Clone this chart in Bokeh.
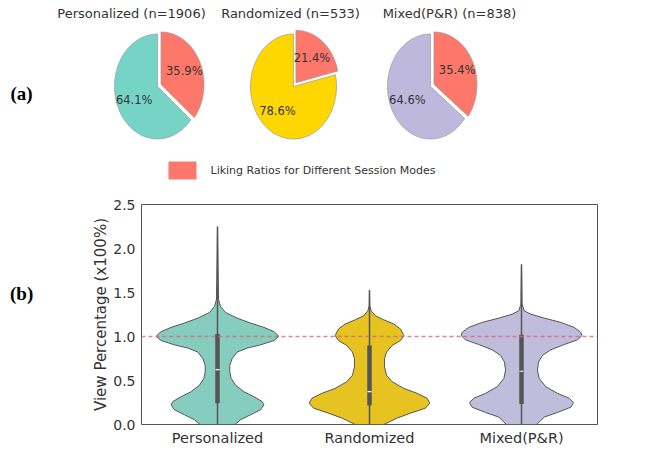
import numpy as np
from bokeh.plotting import figure
from bokeh.models import Range1d, FixedTicker, Span
from bokeh.layouts import column, row
from bokeh.embed import file_html
from bokeh.resources import INLINE
from bokeh.core.properties import value

# ---------------- data ----------------
modes = ["Personalized", "Randomized", "Mixed(P&R)"]
session_n = [1906, 533, 838]
liked_pct = [35.9, 21.4, 35.4]
other_pct = [64.1, 78.6, 64.6]
legend_text = "Liking Ratios for Different Session Modes"

# violin outlines: value level and half width (category units)
pers_y = [2.248, 1.423, 1.341, 1.273, 1.209, 1.153, 1.104, 1.055, 1.003, 0.954, 0.905, 0.868,
          0.823, 0.748, 0.673, 0.598, 0.523, 0.448, 0.373, 0.317, 0.261, 0.223, 0.167, 0.11, 0.054, 0.0]
pers_w = [0.0, 0.0066, 0.0197, 0.0526, 0.129, 0.217, 0.305, 0.371, 0.404, 0.371, 0.283, 0.195,
          0.129, 0.096, 0.081, 0.081, 0.09, 0.118, 0.173, 0.239, 0.294, 0.305, 0.283, 0.217, 0.151, 0.115]
rand_y = [1.528, 1.348, 1.292, 1.235, 1.19, 1.142, 1.085, 1.01, 0.954, 0.898, 0.823, 0.748,
          0.654, 0.56, 0.486, 0.41, 0.354, 0.298, 0.242, 0.186, 0.129, 0.073, 0.0]
rand_w = [0.0, 0.002, 0.011, 0.039, 0.094, 0.16, 0.204, 0.226, 0.204, 0.149, 0.112, 0.099,
          0.099, 0.112, 0.149, 0.226, 0.314, 0.379, 0.397, 0.368, 0.27, 0.182, 0.094]
mix_y = [1.817, 1.367, 1.292, 1.254, 1.209, 1.16, 1.104, 1.048, 1.01, 0.962, 0.909, 0.849,
         0.785, 0.711, 0.617, 0.523, 0.429, 0.354, 0.298, 0.249, 0.197, 0.137, 0.084, 0.0]
mix_w = [0.0, 0.004, 0.018, 0.061, 0.149, 0.259, 0.346, 0.39, 0.397, 0.368, 0.281, 0.193,
         0.138, 0.112, 0.105, 0.116, 0.16, 0.237, 0.314, 0.342, 0.325, 0.237, 0.149, 0.10]

q1 = [0.242, 0.216, 0.234]
q3 = [1.029, 0.898, 1.021]
median = [0.624, 0.373, 0.605]
whisk_lo = [0.0, 0.0, 0.0]
whisk_hi = [2.248, 1.528, 1.817]
ref_line = 1.0

y_ticks = [0.0, 0.5, 1.0, 1.5, 2.0, 2.5]
y_tick_labels = ["0.0", "0.5", "1.0", "1.5", "2.0", "2.5"]

# ---------------- styles ----------------
pie_colors = ["#76d4c6", "#ffd700", "#bdb8dc"]
liked_color = "#fe776b"
violin_colors = ["#86cdc0", "#e6c320", "#c0bcdc"]
FONT = value("DejaVu Sans")
TXT = "#333333"
W, H_TOP, H_BOT = 646, 190, 258

# ---------------- top panel (a) ----------------
top = figure(width=W, height=H_TOP, x_range=Range1d(0, W), y_range=Range1d(H_TOP, 0),
             x_axis_type=None, y_axis_type=None, output_backend="svg",
             toolbar_location=None, min_border=0)
top.grid.visible = False
top.outline_line_color = None

pie_cx = [157, 293, 430]
pie_cy = 86
rx, ry = 43, 52.5
explode = 0.09
pct_dist = 0.6


def sector(cx, cy, t0, t1, ox, oy):
    th = np.radians(np.linspace(t0, t1, 120))
    xs = np.concatenate([[cx + ox], cx + ox + rx * np.cos(th)])
    ys = np.concatenate([[cy + oy], cy + oy - ry * np.sin(th)])
    return xs, ys


pxs, pys, pcols = [], [], []
lx, ly, lt = [], [], []
for i in range(3):
    cx = pie_cx[i]
    t_split = 90 - liked_pct[i] * 3.6
    # liked slice (exploded)
    tm = np.radians((90 + t_split) / 2)
    ox, oy = explode * rx * np.cos(tm), -explode * ry * np.sin(tm)
    xs, ys = sector(cx, pie_cy, 90, t_split, ox, oy)
    pxs.append(xs); pys.append(ys); pcols.append(liked_color)
    lx.append(cx + (pct_dist + explode) * rx * np.cos(tm))
    ly.append(pie_cy - (pct_dist + explode) * ry * np.sin(tm))
    lt.append(f"{liked_pct[i]:.1f}%")
    # other slice
    tm2 = np.radians((t_split - 270) / 2)
    xs, ys = sector(cx, pie_cy, t_split, -270, 0, 0)
    pxs.append(xs); pys.append(ys); pcols.append(pie_colors[i])
    lx.append(cx + pct_dist * rx * np.cos(tm2))
    ly.append(pie_cy - pct_dist * ry * np.sin(tm2))
    lt.append(f"{other_pct[i]:.1f}%")

top.patches(xs=pxs, ys=pys, fill_color=pcols, line_color="#9a9a9a", line_width=0.7)
top.text(x=lx, y=ly, text=lt, text_align="center", text_baseline="middle",
         text_font=FONT, text_font_size="11.5px", text_color=TXT)

title_x = [131, 290, 449]
top.text(x=title_x, y=[13] * 3, text=[f"{m} (n={n})" for m, n in zip(modes, session_n)],
         text_align="center", text_baseline="middle", text_font=FONT,
         text_font_size="13px", text_color=TXT)

# legend
top.rect(x=[182], y=[170], width=28, height=18, fill_color=liked_color, line_color=None)
top.text(x=[210], y=[170], text=[legend_text], text_align="left", text_baseline="middle",
         text_font=FONT, text_font_size="11px", text_color=TXT)

top.text(x=[10], y=[93], text=["(a)"], text_align="left", text_baseline="middle",
         text_font=value("Liberation Serif"), text_font_style="bold",
         text_font_size="19px", text_color="black")

# ---------------- bottom panel (b) ----------------
LAB_W = 58
lab = figure(width=LAB_W, height=H_BOT, x_range=Range1d(0, LAB_W),
             y_range=Range1d(H_TOP + H_BOT, H_TOP),
             x_axis_type=None, y_axis_type=None, output_backend="svg",
             toolbar_location=None, min_border=0)
lab.grid.visible = False
lab.outline_line_color = None
lab.text(x=[9.5], y=[294], text=["(b)"], text_align="left", text_baseline="middle",
         text_font=value("Liberation Serif"), text_font_style="bold",
         text_font_size="19px", text_color="black")

vp = figure(width=W - LAB_W, height=H_BOT, x_range=Range1d(-0.5, 2.5), y_range=Range1d(0, 2.5),
            output_backend="svg", toolbar_location=None,
            min_border_left=141 - LAB_W, min_border_right=W - 597,
            min_border_top=204 - H_TOP, min_border_bottom=H_TOP + H_BOT - 426)
vp.grid.visible = False
vp.outline_line_color = "#555555"
vp.outline_line_width = 1

profiles = [(pers_y, pers_w), (rand_y, rand_w), (mix_y, mix_w)]
vxs, vys = [], []
for i, (yy, ww) in enumerate(profiles):
    yy = np.array(yy); ww = np.array(ww)
    vxs.append(np.concatenate([i + ww, (i - ww)[::-1]]))
    vys.append(np.concatenate([yy, yy[::-1]]))
vp.patches(xs=vxs, ys=vys, fill_color=violin_colors, line_color="#555555", line_width=1)

pos = [0, 1, 2]
vp.segment(x0=pos, y0=whisk_lo, x1=pos, y1=whisk_hi, line_color="#555555", line_width=1.5)
vp.segment(x0=pos, y0=q1, x1=pos, y1=q3, line_color="#555555", line_width=4.5, line_cap="butt")
vp.segment(x0=[p - 0.013 for p in pos], y0=median, x1=[p + 0.013 for p in pos], y1=median,
           line_color="white", line_width=1.2)

vp.add_layout(Span(location=ref_line, dimension="width", line_color="#dd6472",
                   line_alpha=0.8, line_dash="4 3", line_width=1.3))

vp.xaxis.ticker = FixedTicker(ticks=pos)
vp.xaxis.major_label_overrides = {i: m for i, m in enumerate(modes)}
vp.yaxis.ticker = FixedTicker(ticks=y_ticks)
vp.yaxis.major_label_overrides = {t: s for t, s in zip(y_ticks, y_tick_labels)}
for ax in (vp.xaxis, vp.yaxis):
    ax.axis_line_color = None
    ax.major_tick_line_color = None
    ax.minor_tick_line_color = None
    ax.major_tick_out = 0
    ax.major_tick_in = 0
    ax.major_label_text_font = "DejaVu Sans"
    ax.major_label_text_color = TXT
vp.xaxis.major_label_text_font_size = "14.5px"
vp.xaxis.major_label_standoff = 5
vp.yaxis.major_label_text_font_size = "14px"
vp.yaxis.major_label_standoff = 6
vp.yaxis.axis_label = "View Percentage (x100%)"
vp.yaxis.axis_label_text_font = "DejaVu Sans"
vp.yaxis.axis_label_text_font_size = "15px"
vp.yaxis.axis_label_text_font_style = "normal"
vp.yaxis.axis_label_text_color = TXT
vp.yaxis.axis_label_standoff = 0

layout = column(top, row(lab, vp))
open("out.html", "w").write(file_html(layout, INLINE))
